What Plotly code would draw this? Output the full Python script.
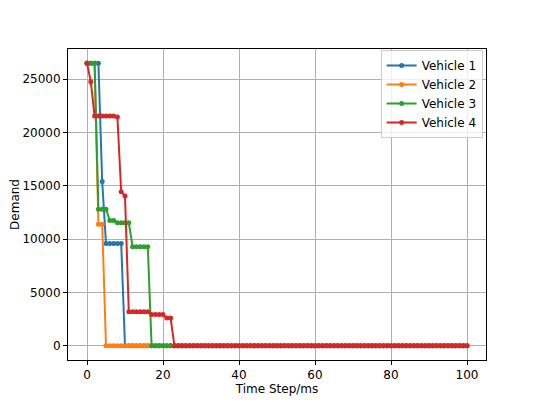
import plotly.graph_objects as go

time_steps = list(range(101))

vehicle1 = [26500, 26500, 26500, 26500, 15400, 9600, 9600, 9600, 9600, 9600] + [0] * 91
vehicle2 = [26500, 26500, 26500, 11400, 11400] + [0] * 96
vehicle3 = [26500, 26500, 26500, 12800, 12800, 12800, 11750, 11750, 11550, 11550,
            11550, 11550, 9300, 9300, 9300, 9300, 9300] + [0] * 84
vehicle4 = [26500, 24750, 21550, 21550, 21550, 21550, 21550, 21550, 21450, 14450,
            14050, 3200, 3200, 3200, 3200, 3200, 3200, 2950, 2950, 2950,
            2950, 2600, 2600] + [0] * 78

names = ["Vehicle 1", "Vehicle 2", "Vehicle 3", "Vehicle 4"]
series = [vehicle1, vehicle2, vehicle3, vehicle4]
colors = ["#1f77b4", "#ff7f0e", "#2ca02c", "#d62728"]

fig = go.Figure()
for name, vals, c in zip(names, series, colors):
    fig.add_trace(go.Scatter(
        x=time_steps, y=vals, name=name, mode="lines+markers",
        line=dict(color=c, width=2),
        marker=dict(color=c, size=5, symbol="circle"),
    ))

font = dict(family="DejaVu Sans", size=12, color="black")
axis_common = dict(
    showline=True, linecolor="black", linewidth=1, mirror=True,
    ticks="outside", ticklen=4, tickcolor="black", tickwidth=1,
    showgrid=True, gridcolor="#b0b0b0", gridwidth=1,
    zeroline=False, tickfont=font, automargin=False,
)

# page body has an 8px margin; compensate so the plot area lands where the reference has it
fig.update_layout(
    width=540, height=405,
    paper_bgcolor="white", plot_bgcolor="white",
    margin=dict(l=59.5, r=62, t=40.6, b=52.5, autoexpand=False),
    font=font,
    xaxis=dict(range=[-5, 105], tickvals=[0, 20, 40, 60, 80, 100],
               title=dict(text="Time Step/ms", font=font, standoff=0), **axis_common),
    yaxis=dict(range=[-1325, 27825], tickvals=[0, 5000, 10000, 15000, 20000, 25000],
               tickformat="d",
               title=dict(text="Demand", font=font, standoff=9), **axis_common),
    legend=dict(x=0.992, y=0.997, xanchor="right", yanchor="top",
                bgcolor="rgba(255,255,255,0.8)", bordercolor="#cccccc", borderwidth=1,
                font=dict(family="DejaVu Sans", size=12, color="black"),
                tracegroupgap=0, itemwidth=30),
    showlegend=True,
)

fig.write_html("out.html")
